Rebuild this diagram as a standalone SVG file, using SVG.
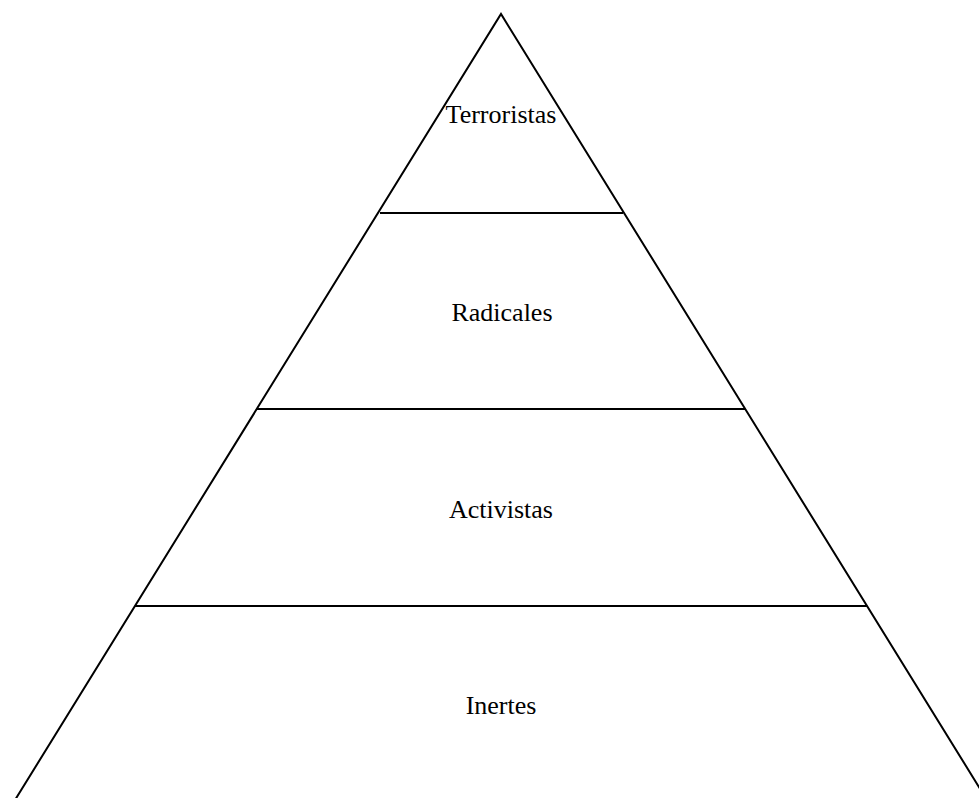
<svg xmlns="http://www.w3.org/2000/svg" width="979" height="798" viewBox="0 0 979 798">
<style>
.ln{stroke:#000;stroke-width:2;fill:none}
.lb{font-family:"Liberation Serif","Times New Roman",serif;font-size:26px;fill:#000;text-anchor:middle}
</style>
<rect width="979" height="798" fill="#fff"/>
<g id="pyramid">
<path class="ln" d="M15,800 L501,14 L987,800"/>
</g>
<g id="connectors">
<line class="ln" x1="380" y1="213" x2="623" y2="213"/>
<line class="ln" x1="257" y1="409" x2="745" y2="409"/>
<line class="ln" x1="135" y1="606" x2="867" y2="606"/>
</g>
<g id="terroristas"><text class="lb" x="501" y="123">Terroristas</text></g>
<g id="radicales"><text class="lb" x="502" y="321">Radicales</text></g>
<g id="activistas"><text class="lb" x="501" y="518">Activistas</text></g>
<g id="inertes"><text class="lb" x="501" y="714">Inertes</text></g>
</svg>
